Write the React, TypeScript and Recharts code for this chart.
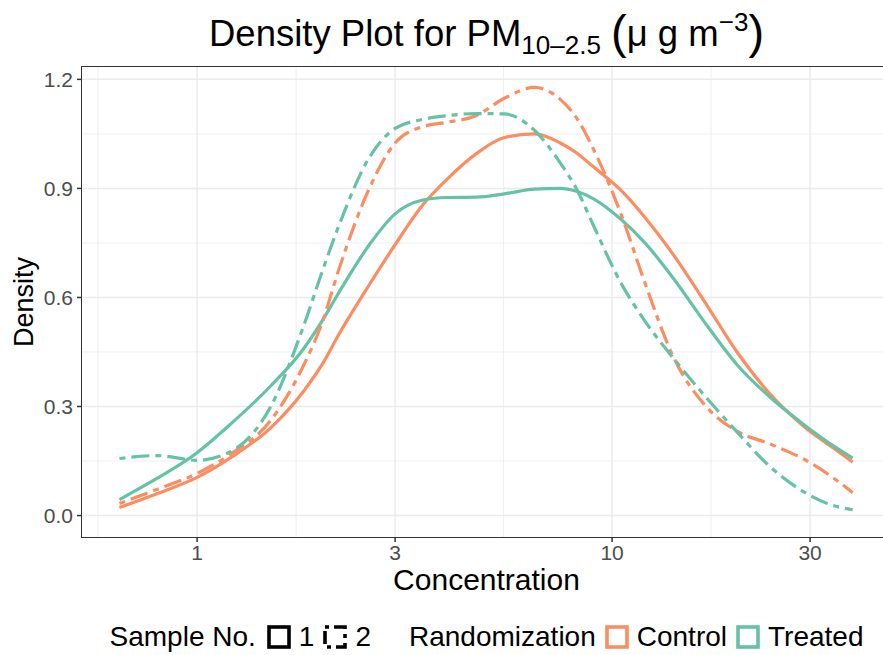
import React from 'react'
import { LineChart, Line, XAxis, YAxis, ReferenceLine } from 'recharts'

// concentration grid (ug/m3) and density
const concentration = [0.65, 0.8, 1, 1.2, 1.5, 1.8, 2, 2.2, 2.6, 3, 3.5, 4, 4.7, 5.5, 6.5, 7.5, 8.2, 9, 10.5, 12, 14, 17, 20, 24, 29, 34, 38]
const controlSample1 = [0.022, 0.06, 0.105, 0.158, 0.24, 0.34, 0.415, 0.5, 0.635, 0.745, 0.855, 0.925, 0.995, 1.04, 1.05, 1.025, 0.998, 0.96, 0.895, 0.82, 0.72, 0.575, 0.45, 0.335, 0.245, 0.187, 0.147]
const controlSample2 = [0.033, 0.072, 0.116, 0.168, 0.26, 0.41, 0.53, 0.68, 0.9, 1.025, 1.07, 1.082, 1.1, 1.148, 1.178, 1.145, 1.095, 1.01, 0.83, 0.64, 0.44, 0.295, 0.232, 0.197, 0.155, 0.105, 0.063]
const treatedSample1 = [0.044, 0.102, 0.173, 0.25, 0.355, 0.457, 0.535, 0.615, 0.745, 0.83, 0.868, 0.875, 0.876, 0.885, 0.898, 0.9, 0.892, 0.872, 0.815, 0.75, 0.655, 0.52, 0.415, 0.326, 0.25, 0.193, 0.158]
const treatedSample2 = [0.157, 0.165, 0.152, 0.175, 0.297, 0.517, 0.67, 0.8, 0.985, 1.065, 1.09, 1.1, 1.106, 1.105, 1.06, 0.97, 0.9, 0.8, 0.64, 0.535, 0.435, 0.32, 0.23, 0.135, 0.065, 0.028, 0.016]

const xTicks = [1, 3, 10, 30]
const xMinor = [0.577, 1.732, 5.477, 17.32]
const yTicks = [0, 0.3, 0.6, 0.9, 1.2]
const yMinor = [0.15, 0.45, 0.75, 1.05]

const ORANGE = '#FC8D62'
const GREEN = '#66C2A5'
const FONT = '"Liberation Sans", Arial, Helvetica, sans-serif'
const TWODASH = '6 6 18 6'

const data = concentration.map((c, i) => ({
  c,
  cs1: controlSample1[i],
  cs2: controlSample2[i],
  ts1: treatedSample1[i],
  ts2: treatedSample2[i],
}))

function Key({ color, dashed }: { color: string, dashed?: boolean }) {
  return (
    <svg width={24} height={24} style={{ margin: '0 8px 0 9px' }}>
      <rect x={2} y={2} width={20} height={20} fill="none" stroke={color} strokeWidth={3.6}
        strokeDasharray={dashed ? '4 5 13 5' : undefined} />
    </svg>
  )
}

export default function App() {
  return (
    <div style={{ position: 'absolute', left: 0, top: 0, width: 883, height: 655, overflow: 'hidden', background: '#fff', fontFamily: FONT }}>
      <svg width={883} height={64} style={{ position: 'absolute', left: 0, top: 0 }}>
        <text x={486.5} y={46} textAnchor="middle" fontFamily={FONT} fontSize={36.5} fill="#000">
          Density Plot for PM
          <tspan fontSize={26} dy={8}>10–2.5</tspan>
          <tspan dy={-8}> </tspan>
          <tspan fontSize={47} dy={2}>(</tspan>
          <tspan fontSize={36.5} dy={-2}>μ g m</tspan>
          <tspan fontSize={26} dy={-15}>−3</tspan>
          <tspan fontSize={47} dy={17}>)</tspan>
        </text>
      </svg>

      <LineChart width={900} height={655} data={data} margin={{ top: 67, right: 9, bottom: 0, left: 0 }}>
        {xMinor.map(v => <ReferenceLine key={'xm' + v} x={v} stroke="#EBEBEB" strokeWidth={0.8} />)}
        {yMinor.map(v => <ReferenceLine key={'ym' + v} y={v} stroke="#EBEBEB" strokeWidth={0.8} />)}
        {xTicks.map(v => <ReferenceLine key={'xM' + v} x={v} stroke="#EBEBEB" strokeWidth={1.5} />)}
        {yTicks.map(v => <ReferenceLine key={'yM' + v} y={v} stroke="#EBEBEB" strokeWidth={1.5} />)}
        <XAxis
          dataKey="c"
          type="number"
          scale="log"
          domain={[0.528, 47]}
          allowDataOverflow
          ticks={xTicks}
          interval={0}
          height={118}
          axisLine={false}
          tickSize={5}
          tickMargin={3}
          tickLine={{ stroke: '#333', strokeWidth: 1.5 }}
          tick={{ fill: '#4D4D4D', fontSize: 21, fontFamily: FONT }}
          label={{ value: 'Concentration', position: 'insideTop', offset: 32, style: { fontSize: 30, fill: '#000', fontFamily: FONT } }}
        />
        <YAxis
          type="number"
          domain={[-0.059, 1.234]}
          allowDataOverflow
          ticks={yTicks}
          interval={0}
          width={82}
          axisLine={false}
          tickSize={5}
          tickMargin={4}
          tickLine={{ stroke: '#333', strokeWidth: 1.5 }}
          tickFormatter={(v: number) => v.toFixed(1)}
          tick={{ fill: '#4D4D4D', fontSize: 21, fontFamily: FONT }}
          label={{ value: 'Density', angle: -90, position: 'center', dx: -18, style: { fontSize: 27, fill: '#000', fontFamily: FONT, textAnchor: 'middle' } }}
        />
        <Line type="monotone" dataKey="cs1" stroke={ORANGE} strokeWidth={3.2} dot={false} activeDot={false} isAnimationActive={false} />
        <Line type="monotone" dataKey="ts1" stroke={GREEN} strokeWidth={3.2} dot={false} activeDot={false} isAnimationActive={false} />
        <Line type="monotone" dataKey="cs2" stroke={ORANGE} strokeWidth={3.2} strokeDasharray={TWODASH} dot={false} activeDot={false} isAnimationActive={false} />
        <Line type="monotone" dataKey="ts2" stroke={GREEN} strokeWidth={3.2} strokeDasharray={TWODASH} dot={false} activeDot={false} isAnimationActive={false} />
      </LineChart>

      {/* panel border */}
      <div style={{ position: 'absolute', left: 81, top: 66, width: 811, height: 472, border: '1.5px solid #333', boxSizing: 'border-box', pointerEvents: 'none' }} />

      {/* legend */}
      <div style={{ position: 'absolute', left: 0, top: 619, width: 973, height: 36, display: 'flex', alignItems: 'center', justifyContent: 'center', fontSize: 28, color: '#000', whiteSpace: 'nowrap' }}>
        <span style={{ marginRight: 2 }}>Sample No.</span>
        <Key color="#000" />
        <span>1</span>
        <Key color="#000" dashed />
        <span>2</span>
        <span style={{ marginLeft: 38, marginRight: 0 }}>Randomization</span>
        <Key color={ORANGE} />
        <span>Control</span>
        <Key color={GREEN} />
        <span>Treated</span>
      </div>
    </div>
  )
}
